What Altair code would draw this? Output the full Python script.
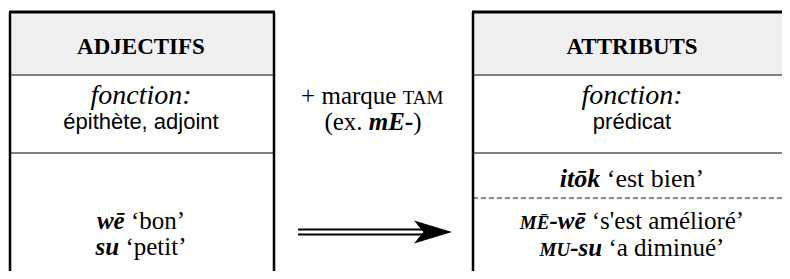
import altair as alt
import pandas as pd

# ---------------- content ----------------
headers = ["ADJECTIFS", "ATTRIBUTS"]
fonction_label = "fonction:"
fonctions = ["épithète, adjoint", "prédicat"]
middle_lines = [
    [("+ marque ", "r", 25), ("TAM", "r", 19)],
    [("(ex. ", "r", 25), ("mE-", "bi", 25), (")", "r", 25)],
]
left_examples = [
    [("wē", "bi", 25), (" ‘bon’", "r", 25)],
    [("su", "bi", 25), (" ‘petit’", "r", 25)],
]
right_top_example = [("itōk", "bi", 26), (" ‘est bien’", "r", 26)]
right_examples = [
    [("MĒ", "bi", 19), ("-wē", "bi", 25), (" ‘s'est amélioré’", "r", 25)],
    [("MU", "bi", 19), ("-su", "bi", 25), (" ‘a diminué’", "r", 25)],
]

# ---------------- layout ----------------
W, H = 774, 263
X0, Y0 = 8, 8
LEFT = (10, 274)
RIGHT = (473, X0 + W)
TOP, HEAD_BOT, FUNC_BOT, BOTTOM = 12, 75, 153, Y0 + H
CX = {"left": 141, "mid": 373, "right": 632}

SERIF = "Liberation Serif"
SANS = "Liberation Sans"

R = {' ': 250, '‘': 333, '’': 333, "'": 180, 'a': 444, 'b': 500, 'c': 444, 'd': 500,
     'e': 444, 'é': 444, 'i': 278, 'l': 278, 'm': 778, 'n': 500, 'o': 500, 'p': 500,
     'q': 500, 'r': 333, 's': 389, 't': 278, 'u': 500, 'x': 500, '.': 250, '(': 333,
     ')': 333, '+': 564, 'T': 611, 'A': 722, 'M': 889}
BI = {' ': 250, 'w': 667, 'ē': 444, 's': 389, 'u': 556, 'i': 278, 't': 278, 'ō': 500,
      'k': 500, 'M': 889, 'Ē': 667, '-': 333, 'U': 722, 'm': 778, 'E': 667}


def width(txt, style, size):
    tab = BI if style == "bi" else R
    return sum(tab.get(c, 500) for c in txt) * size / 1000.0


def place(pieces, cx, base):
    total = sum(width(t, s, z) for t, s, z in pieces)
    x = cx - total / 2
    rows = []
    for t, s, z in pieces:
        lead = len(t) - len(t.lstrip(" "))
        xs = x + width(" " * lead, s, z)
        rows.append({"x": xs, "y": base, "text": t.strip(" "), "style": s, "size": z})
        x += width(t, s, z)
    return rows


pieces = []
pieces += place(left_examples[0], CX["left"], 229)
pieces += place(left_examples[1], CX["left"], 255)
pieces += place(middle_lines[0], CX["mid"], 104)
pieces += place(middle_lines[1], CX["mid"], 130)
pieces += place(right_top_example, CX["right"], 187)
pieces += place(right_examples[0], CX["right"], 229)
pieces += place(right_examples[1], CX["right"], 256)
pieces_df = pd.DataFrame(pieces)

xs = alt.Scale(domain=[X0, X0 + W], nice=False, zero=False)
ys = alt.Scale(domain=[Y0, Y0 + H], nice=False, zero=False, reverse=True)


def X(f="x"):
    return alt.X(f, type="quantitative", scale=xs, axis=None)


def Y(f="y"):
    return alt.Y(f, type="quantitative", scale=ys, axis=None)


# header fills
fills = pd.DataFrame([
    {"x": LEFT[0], "x2": LEFT[1], "y": TOP, "y2": HEAD_BOT},
    {"x": RIGHT[0], "x2": RIGHT[1], "y": TOP, "y2": HEAD_BOT},
])
fill_layer = alt.Chart(fills).mark_rect(color="#f0f0f0").encode(
    x=X(), x2="x2", y=Y(), y2="y2")

# gray separators
gray = pd.DataFrame([
    {"x": LEFT[0], "x2": LEFT[1], "y": HEAD_BOT},
    {"x": RIGHT[0], "x2": RIGHT[1], "y": HEAD_BOT},
    {"x": LEFT[0], "x2": LEFT[1], "y": FUNC_BOT},
    {"x": RIGHT[0], "x2": RIGHT[1], "y": FUNC_BOT},
])
gray_layer = alt.Chart(gray).mark_rule(color="#808080", strokeWidth=2).encode(
    x=X(), x2="x2", y=Y())

dashed = pd.DataFrame([{"x": RIGHT[0], "x2": RIGHT[1], "y": 198}])
dash_layer = alt.Chart(dashed).mark_rule(
    color="#8a8a8a", strokeWidth=2, strokeDash=[5, 3]).encode(x=X(), x2="x2", y=Y())

# black borders
hb = pd.DataFrame([
    {"x": LEFT[0] - 1, "x2": LEFT[1] + 1, "y": TOP},
    {"x": RIGHT[0] - 1, "x2": RIGHT[1], "y": TOP},
])
hb_layer = alt.Chart(hb).mark_rule(color="black", strokeWidth=3).encode(
    x=X(), x2="x2", y=Y())
vb = pd.DataFrame([
    {"x": LEFT[0], "y": TOP, "y2": BOTTOM},
    {"x": LEFT[1], "y": TOP, "y2": BOTTOM},
    {"x": RIGHT[0], "y": TOP, "y2": BOTTOM},
])
vb_layer = alt.Chart(vb).mark_rule(color="black", strokeWidth=2.5).encode(
    x=X(), y=Y(), y2="y2")

# double arrow
shaft = pd.DataFrame([
    {"x": 298, "x2": 432, "y": 229.5},
    {"x": 298, "x2": 432, "y": 234.5},
])
shaft_layer = alt.Chart(shaft).mark_rule(color="black", strokeWidth=2).encode(
    x=X(), x2="x2", y=Y())
head = pd.DataFrame([{"x": 433, "y": 232}])
head_layer = alt.Chart(head).mark_point(
    shape="M1,0 L-1,-0.6 L-0.5,0 L-1,0.6 Z", filled=True, color="black",
    opacity=1, size=1444, strokeWidth=0).encode(x=X(), y=Y())

# centered single-style texts
hdr = pd.DataFrame([
    {"x": CX["left"], "y": 54, "text": headers[0]},
    {"x": CX["right"], "y": 54, "text": headers[1]},
])
hdr_layer = alt.Chart(hdr).mark_text(
    font=SERIF, fontWeight="bold", fontSize=23, align="center", baseline="alphabetic",
    color="black").encode(x=X(), y=Y(), text="text")

fl = pd.DataFrame([
    {"x": CX["left"], "y": 104, "text": fonction_label},
    {"x": CX["right"], "y": 104, "text": fonction_label},
])
fl_layer = alt.Chart(fl).mark_text(
    font=SERIF, fontStyle="italic", fontSize=28, align="center", baseline="alphabetic",
    color="black").encode(x=X(), y=Y(), text="text")

fv = pd.DataFrame([
    {"x": CX["left"], "y": 129, "text": fonctions[0]},
    {"x": CX["right"], "y": 129, "text": fonctions[1]},
])
fv_layer = alt.Chart(fv).mark_text(
    font=SANS, fontSize=22, align="center", baseline="alphabetic",
    color="black").encode(x=X(), y=Y(), text="text")

# mixed-style pieces
reg_layer = alt.Chart(pieces_df).transform_filter(alt.datum.style == "r").mark_text(
    font=SERIF, align="left", baseline="alphabetic", color="black").encode(
    x=X(), y=Y(), text="text", size=alt.Size("size:Q", scale=None, legend=None))
bi_layer = alt.Chart(pieces_df).transform_filter(alt.datum.style == "bi").mark_text(
    font=SERIF, fontWeight="bold", fontStyle="italic", align="left",
    baseline="alphabetic", color="black").encode(
    x=X(), y=Y(), text="text", size=alt.Size("size:Q", scale=None, legend=None))

chart = alt.layer(
    fill_layer, gray_layer, dash_layer, hb_layer, vb_layer, shaft_layer, head_layer,
    hdr_layer, fl_layer, fv_layer, reg_layer, bi_layer
).properties(
    width=W, height=H, padding=0, autosize=alt.AutoSizeParams(type="none")
).configure(
    background="white",
    view=alt.ViewConfig(stroke="transparent", strokeWidth=0),
)

chart.save("out.html", embed_options={"renderer": "svg", "actions": False})
